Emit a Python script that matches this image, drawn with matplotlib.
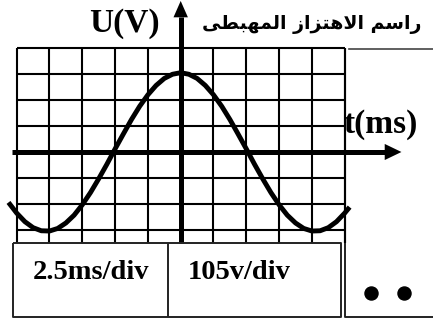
import matplotlib
matplotlib.use("Agg")
import matplotlib.pyplot as plt

# oscilloscope trace in divisions
t_div = [-5.25, -5.0, -4.75, -4.5, -4.25, -4.0, -3.75, -3.5, -3.25, -3.0,
         -2.75, -2.5, -2.25, -2.0, -1.75, -1.5, -1.25, -1.0, -0.75, -0.5,
         -0.25, 0.0, 0.25, 0.5, 0.75, 1.0, 1.25, 1.5, 1.75, 2.0,
         2.25, 2.5, 2.75, 3.0, 3.25, 3.5, 3.75, 4.0, 4.25, 4.5,
         4.75, 5.0, 5.15]
u_div = [-1.94, -2.35, -2.68, -2.91, -3.03, -3.04, -2.94, -2.73, -2.43, -2.03,
         -1.56, -1.03, -0.47, 0.12, 0.69, 1.25, 1.76, 2.20, 2.56, 2.83,
         2.99, 3.05, 2.99, 2.83, 2.56, 2.20, 1.76, 1.25, 0.69, 0.12,
         -0.47, -1.03, -1.56, -2.03, -2.43, -2.73, -2.94, -3.04, -3.03, -2.91,
         -2.68, -2.35, -2.12]

grid_x = [-5, -4, -3, -2, -1, 0, 1, 2, 3, 4, 5]
grid_y = [-3, -2, -1, 1, 2, 3, 4]

y_label = "U(V)"
x_label = "t(ms)"
time_base = "2.5ms/div"
volt_base = "105v/div"
# "راسم الاهتزاز المهبطى" written with arabic presentation forms in visual order
title = ("\uFEF0\uFEC4\uFE92\uFEEC\uFEE4\uFEDF\uFE8D "
         "\uFEAF\uFE8D\uFEB0\uFE98\uFEEB\uFEFB\uFE8D "
         "\uFEE2\uFEB3\uFE8D\uFEAD")

fig = plt.figure(figsize=(4.33, 3.2), dpi=100)
ax = fig.add_axes([0, 0, 1, 1])
ax.set_xlim(-5.509, 7.692)
ax.set_ylim(-6.462, 5.846)
ax.axis("off")

# screen grid
for gx in grid_x:
    ax.plot([gx, gx], [-3.5, 4], color="black", lw=1.5, solid_capstyle="butt")
for gy in grid_y:
    ax.plot([-5, 5], [gy, gy], color="black", lw=1.5, solid_capstyle="butt")

# trace
ax.plot(t_div, u_div, color="black", lw=3.5, solid_capstyle="butt")

# axes with arrows
ax.plot([0, 0], [-3.5, 5.2], color="black", lw=3.6, solid_capstyle="butt")
ax.fill([-0.22, 0.22, 0], [5.18, 5.18, 5.81], color="black", lw=0)
ax.plot([-5.14, 6.25], [0, 0], color="black", lw=3.6, solid_capstyle="butt")
ax.fill([6.22, 6.22, 6.73], [0.31, -0.31, 0], color="black", lw=0)

serif = dict(family="Liberation Serif", weight="bold", color="black")
ax.text(-0.63, 4.62, y_label, ha="right", va="baseline", fontsize=24, **serif)
ax.text(4.96, 0.73, x_label, ha="left", va="baseline", fontsize=24, **serif)
ax.text(0.66, 4.72, title, ha="left", va="baseline", fontsize=13.6,
        family="DejaVu Sans", weight="bold")
ax.plot([5.13, 7.69], [3.95, 3.95], color="#444444", lw=1.2)

# settings boxes under the screen
box = dict(color="#222222", lw=1.4, solid_capstyle="butt")
ax.plot([-5.12, 4.88, 4.88, -5.12, -5.12], [-3.5, -3.5, -6.36, -6.36, -3.5], **box)
ax.plot([-0.39, -0.39], [-3.5, -6.36], **box)
ax.plot([5, 5, 7.69], [-3.5, -6.36, -6.36], **box)
ax.plot([5, 5], [-3.5, 4], color="black", lw=1.5, solid_capstyle="butt")

ax.text(-4.51, -4.9, time_base, ha="left", va="baseline", fontsize=20.5, **serif)
ax.text(0.23, -4.9, volt_base, ha="left", va="baseline", fontsize=20.5, **serif)
ax.plot([5.80, 6.82], [-5.43, -5.43], "o", color="black", ms=9.4, lw=0)

fig.savefig("out.png", dpi=100)
